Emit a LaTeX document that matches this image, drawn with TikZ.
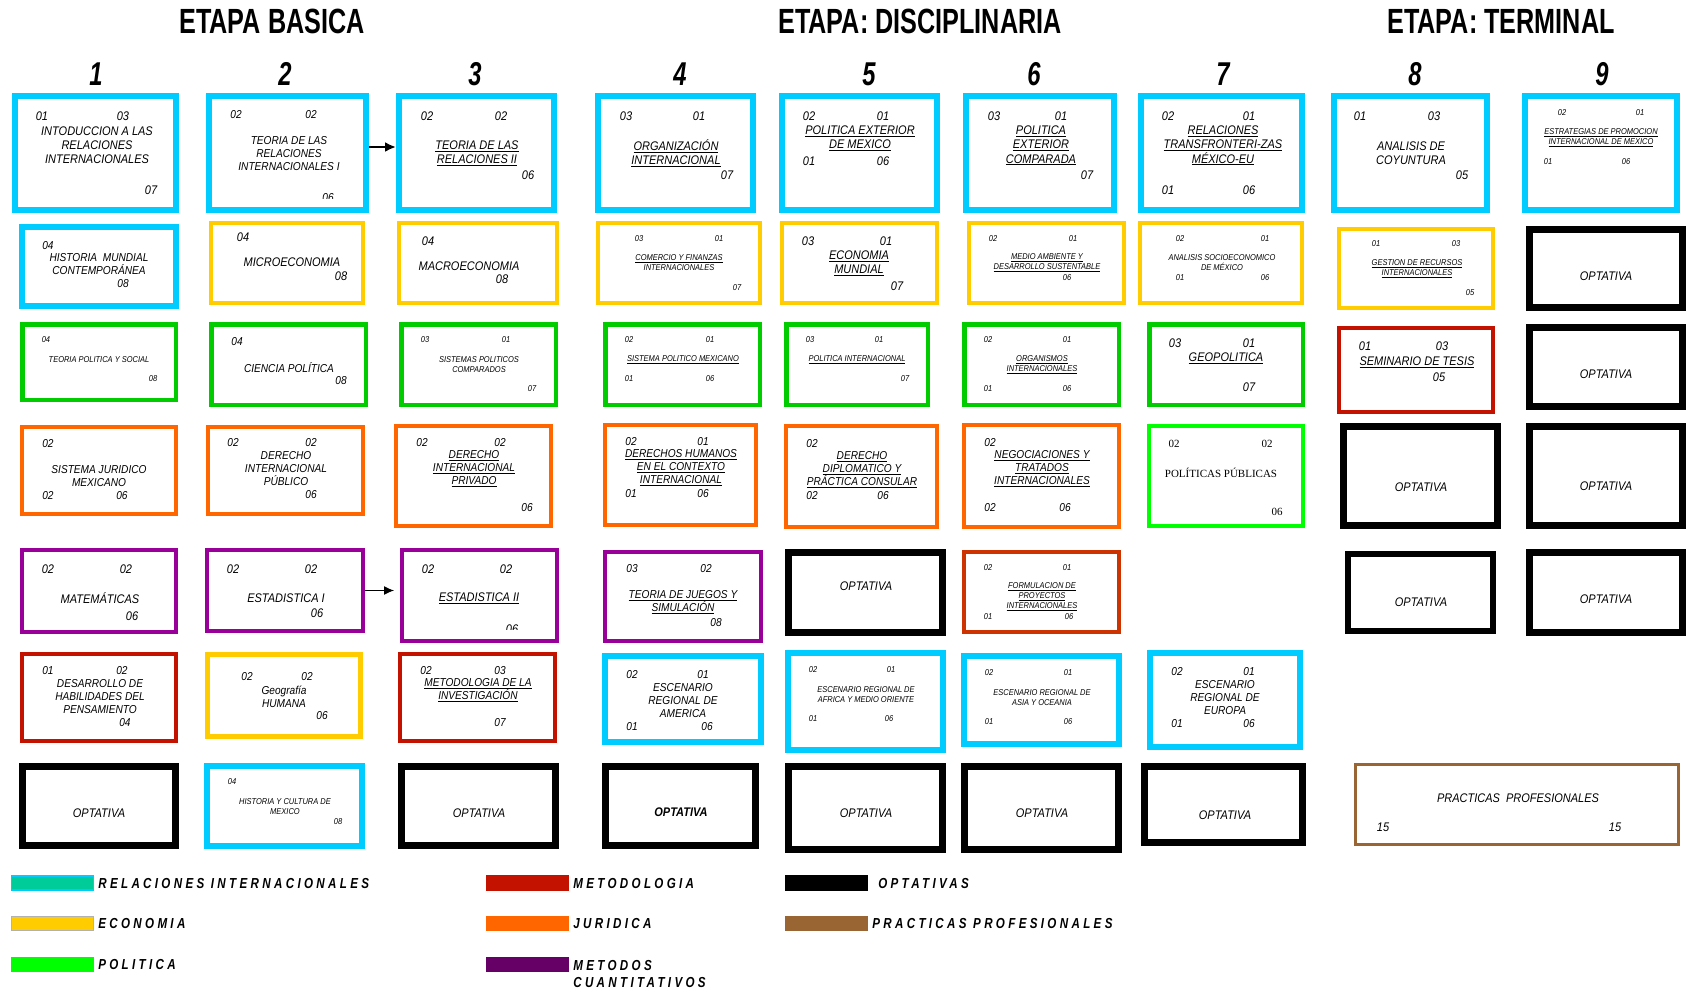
\documentclass[tikz,border=0pt]{standalone}
\usepackage{fontspec}
\usetikzlibrary{arrows.meta,positioning}
\setmainfont{Liberation Sans}
\newfontfamily\cursofont[FakeStretch=0.88]{Liberation Sans}
\newfontfamily\etapafont[FakeStretch=0.72]{Liberation Sans}
\newfontfamily\leyfont[FakeStretch=0.8,LetterSpace=23]{Liberation Sans}
\newfontfamily\pubfont{Liberation Serif}
\definecolor{ricol}{HTML}{00CCFF}
\definecolor{ecocol}{HTML}{FFCC00}
\definecolor{polcol}{HTML}{00CC00}
\definecolor{pubcol}{HTML}{00FF00}
\definecolor{jurcol}{HTML}{FF6600}
\definecolor{cuantcol}{HTML}{990099}
\definecolor{metcol}{HTML}{C41200}
\definecolor{formcol}{HTML}{CC3300}
\definecolor{praccol}{HTML}{996633}
\definecolor{tealcol}{HTML}{00CC99}
\definecolor{violcol}{HTML}{660066}

\begin{document}
\begin{tikzpicture}[x=1pt,y=-1pt,
  ribox/.style={draw=ricol,line width=6pt},
  ecobox/.style={draw=ecocol,line width=4pt},
  polbox/.style={draw=polcol,line width=4.5pt},
  pubbox/.style={draw=pubcol,line width=4pt},
  jurbox/.style={draw=jurcol,line width=4pt},
  cuantbox/.style={draw=cuantcol,line width=4pt},
  metbox/.style={draw=metcol,line width=4pt},
  formbox/.style={draw=formcol,line width=4pt},
  optbox/.style={draw=black,line width=7pt},
  pracbox/.style={draw=praccol,line width=3pt},
  grande/.style={font=\cursofont\fontsize{12.5}{14.2}\selectfont\itshape,align=center,inner sep=0pt},
  medio/.style={font=\cursofont\fontsize{11.5}{13}\selectfont\itshape,align=center,inner sep=0pt},
  chico/.style={font=\cursofont\fontsize{8.5}{10}\selectfont\itshape,align=center,inner sep=0pt},
  serifo/.style={font=\pubfont\fontsize{11}{13}\selectfont,inner sep=0pt},
  etapa/.style={font=\etapafont\bfseries\fontsize{35}{40}\selectfont,inner sep=0pt},
  colnum/.style={font=\etapafont\bfseries\itshape\fontsize{33}{36}\selectfont,inner sep=0pt},
  leybox/.style={minimum width=82pt,minimum height=14pt,inner sep=0pt,line width=1.2pt},
  leytxt/.style={font=\leyfont\bfseries\itshape\fontsize{14.5}{17}\selectfont,inner sep=0pt}]

\useasboundingbox (0,0) rectangle (1686,991);

\node[etapa] (et-basica) at (272,21) {ETAPA BASICA};
\node[etapa] (et-disc) at (920,21) {ETAPA: DISCIPLINARIA};
\node[etapa] (et-term) at (1501,21) {ETAPA: TERMINAL};

\node[colnum] (n1) at (96,74) {1};
\node[colnum] (n2) at (285,74) {2};
\node[colnum] (n3) at (475,74) {3};
\node[colnum] (n4) at (680,74) {4};
\node[colnum] (n5) at (869,74) {5};
\node[colnum] (n6) at (1034,74) {6};
\node[colnum] (n7) at (1223,74) {7};
\node[colnum] (n8) at (1415,74) {8};
\node[colnum] (n9) at (1602,74) {9};

\node[ribox,minimum width=161pt,minimum height=114pt] (c1r1) at (95.5,153) {};
\node[ribox,minimum width=157pt,minimum height=114pt] (c2r1) at (287.5,153) {};
\node[ribox,minimum width=155pt,minimum height=114pt] (c3r1) at (476.5,153) {};
\node[ribox,minimum width=155pt,minimum height=114pt] (c4r1) at (675.5,153) {};
\node[ribox,minimum width=155pt,minimum height=114pt] (c5r1) at (859.5,153) {};
\node[ribox,minimum width=148pt,minimum height=114pt] (c6r1) at (1040,153) {};
\node[ribox,minimum width=161pt,minimum height=114pt] (c7r1) at (1221.5,153) {};
\node[ribox,minimum width=153pt,minimum height=114pt] (c8r1) at (1410.5,153) {};
\node[ribox,minimum width=152pt,minimum height=114pt] (c9r1) at (1601,153) {};

\node[ribox,minimum width=154pt,minimum height=79pt] (c1r2) at (99,266.5) {};
\node[ecobox,minimum width=152pt,minimum height=80pt] (c2r2) at (287,263) {};
\node[ecobox,minimum width=158pt,minimum height=80pt] (c3r2) at (478,263) {};
\node[ecobox,minimum width=162pt,minimum height=80pt] (c4r2) at (679,263) {};
\node[ecobox,minimum width=155pt,minimum height=80pt] (c5r2) at (859.5,263) {};
\node[ecobox,minimum width=155pt,minimum height=80pt] (c6r2) at (1046.5,263) {};
\node[ecobox,minimum width=162pt,minimum height=80pt] (c7r2) at (1221,263) {};
\node[ecobox,minimum width=154pt,minimum height=79pt] (c8r2) at (1416,268.5) {};
\node[optbox,minimum width=153pt,minimum height=78pt] (c9r2) at (1606,268.5) {};

\node[polbox,minimum width=153.5pt,minimum height=75.5pt] (c1r3) at (99,362) {};
\node[polbox,minimum width=154.5pt,minimum height=80.5pt] (c2r3) at (288.5,364.5) {};
\node[polbox,minimum width=154.5pt,minimum height=80.5pt] (c3r3) at (478.5,364.5) {};
\node[polbox,minimum width=154.5pt,minimum height=80.5pt] (c4r3) at (682.5,364.5) {};
\node[polbox,minimum width=141.5pt,minimum height=80.5pt] (c5r3) at (857,364.5) {};
\node[polbox,minimum width=154.5pt,minimum height=80.5pt] (c6r3) at (1041.5,364.5) {};
\node[polbox,minimum width=153.5pt,minimum height=80.5pt] (c7r3) at (1226,364.5) {};
\node[metbox,minimum width=154pt,minimum height=84pt] (c8r3) at (1416,370) {};
\node[optbox,minimum width=153pt,minimum height=79pt] (c9r3) at (1606,367) {};

\node[jurbox,minimum width=154pt,minimum height=87pt] (c1r4) at (99,470.5) {};
\node[jurbox,minimum width=155pt,minimum height=87pt] (c2r4) at (285.5,470.5) {};
\node[jurbox,minimum width=155pt,minimum height=100pt] (c3r4) at (473.5,476) {};
\node[jurbox,minimum width=151pt,minimum height=100pt] (c4r4) at (680.5,475) {};
\node[jurbox,minimum width=151pt,minimum height=101pt] (c5r4) at (861.5,476.5) {};
\node[jurbox,minimum width=155pt,minimum height=102pt] (c6r4) at (1041.5,476) {};
\node[pubbox,minimum width=154pt,minimum height=100pt] (c7r4) at (1226,476) {};
\node[optbox,minimum width=154pt,minimum height=99pt] (c8r4) at (1420.5,476) {};
\node[optbox,minimum width=153pt,minimum height=99pt] (c9r4) at (1606,476) {};

\node[cuantbox,minimum width=154pt,minimum height=82pt] (c1r5) at (99,591) {};
\node[cuantbox,minimum width=156pt,minimum height=81pt] (c2r5) at (285,590.5) {};
\node[cuantbox,minimum width=155pt,minimum height=91pt] (c3r5) at (479.5,595.5) {};
\node[cuantbox,minimum width=156pt,minimum height=89pt] (c4r5) at (683,596.5) {};
\node[optbox,minimum width=154pt,minimum height=80pt] (c5r5) at (865.5,592.5) {};
\node[formbox,minimum width=155pt,minimum height=80pt] (c6r5) at (1041.5,592) {};
\node[optbox,line width=6pt,minimum width=145pt,minimum height=77pt] (c8r5) at (1420.5,592.5) {};
\node[optbox,minimum width=153pt,minimum height=80pt] (c9r5) at (1606,592.5) {};

\node[metbox,minimum width=154pt,minimum height=87pt] (c1r6) at (99,697.5) {};
\node[ecobox,line width=5pt,minimum width=153pt,minimum height=82pt] (c2r6) at (284,695.5) {};
\node[metbox,minimum width=155pt,minimum height=87pt] (c3r6) at (477.5,697.5) {};
\node[ribox,minimum width=156pt,minimum height=86pt] (c4r6) at (683,699) {};
\node[ribox,minimum width=155pt,minimum height=97pt] (c5r6) at (865.5,701.5) {};
\node[ribox,minimum width=155pt,minimum height=88pt] (c6r6) at (1041.5,700) {};
\node[ribox,minimum width=150pt,minimum height=94pt] (c7r6) at (1225,700) {};

\node[optbox,minimum width=153pt,minimum height=79pt] (c1r7) at (99,806) {};
\node[ribox,minimum width=155pt,minimum height=80pt] (c2r7) at (284.5,806) {};
\node[optbox,minimum width=154pt,minimum height=79pt] (c3r7) at (478.5,806) {};
\node[optbox,minimum width=150pt,minimum height=79pt] (c4r7) at (680.5,806) {};
\node[optbox,minimum width=154pt,minimum height=83pt] (c5r7) at (865.5,808) {};
\node[optbox,minimum width=154pt,minimum height=83pt] (c6r7) at (1041.5,808) {};
\node[optbox,minimum width=158pt,minimum height=76pt] (c7r7) at (1223.5,804.5) {};
\node[pracbox,minimum width=323pt,minimum height=80pt] (prac) at (1517,804.5) {};

\draw[line width=2.5pt,-{Latex[length=11pt,width=10pt]}] ([yshift=6pt]c2r1.east) -- ([yshift=6pt]c3r1.west);
\draw[line width=1pt,shorten >=6pt,-{Latex[length=10pt,width=9pt]}] (c2r5.east) -- (c2r5.east -| c3r5.west);

\node[grande] (c1r1-a) at (42,116) {01};
\node[grande] (c1r1-b) at (123,116) {03};
\node[grande] (c1r1-t) at (97,145) {INTODUCCION A LAS\\RELACIONES\\INTERNACIONALES};
\node[grande] (c1r1-d) at (151,190) {07};

\node[medio] (c2r1-a) at (236,115) {02};
\node[medio] (c2r1-b) at (311,115) {02};
\node[medio] (c2r1-t) at (289,154) {TEORIA DE LAS\\RELACIONES\\INTERNACIONALES I};
\begin{scope}
\clip (300,180) rectangle (360,198);
\node[medio] (c2r1-d) at (328,198) {06};
\end{scope}

\node[grande] (c3r1-a) at (427,116) {02};
\node[grande] (c3r1-b) at (501,116) {02};
\node[grande] (c3r1-t) at (477,153) {\underline{TEORIA DE LAS}\\\underline{RELACIONES II}};
\node[grande] (c3r1-d) at (528,175) {06};

\node[grande] (c4r1-a) at (626,116) {03};
\node[grande] (c4r1-b) at (699,116) {01};
\node[grande] (c4r1-t) at (676,153) {\underline{ORGANIZACIÓN}\\\underline{INTERNACIONAL}};
\node[grande] (c4r1-d) at (727,175) {07};

\node[grande] (c5r1-a) at (809,116) {02};
\node[grande] (c5r1-b) at (883,116) {01};
\node[grande] (c5r1-t) at (860,138.5) {\underline{POLITICA EXTERIOR}\\\underline{DE MEXICO}};
\node[grande] (c5r1-c) at (809,161) {01};
\node[grande] (c5r1-d) at (883,161) {06};

\node[grande] (c6r1-a) at (994,116) {03};
\node[grande] (c6r1-b) at (1061,116) {01};
\node[grande] (c6r1-t) at (1041,145.5) {\underline{POLITICA}\\\underline{EXTERIOR}\\\underline{COMPARADA}};
\node[grande] (c6r1-d) at (1087,175) {07};

\node[grande] (c7r1-a) at (1168,116) {02};
\node[grande] (c7r1-b) at (1249,116) {01};
\node[grande] (c7r1-t) at (1223,145.5) {\underline{RELACIONES}\\\underline{TRANSFRONTERI-ZAS}\\\underline{MÉXICO-EU}};
\node[grande] (c7r1-c) at (1168,190) {01};
\node[grande] (c7r1-d) at (1249,190) {06};

\node[grande] (c8r1-a) at (1360,116) {01};
\node[grande] (c8r1-b) at (1434,116) {03};
\node[grande] (c8r1-t) at (1411,153) {ANALISIS DE\\COYUNTURA};
\node[grande] (c8r1-d) at (1462,175) {05};

\node[chico] (c9r1-a) at (1562,113) {02};
\node[chico] (c9r1-b) at (1640,113) {01};
\node[chico] (c9r1-t) at (1601,138) {\underline{ESTRATEGIAS DE PROMOCION}\\\underline{INTERNACIONAL DE MEXICO}};
\node[chico] (c9r1-c) at (1548,162) {01};
\node[chico] (c9r1-d) at (1626,162) {06};

\node[medio] (c1r2-a) at (48,246) {04};
\node[medio] (c1r2-t) at (99,264.5) {HISTORIA\ \ MUNDIAL\\CONTEMPORÁNEA};
\node[medio] (c1r2-d) at (123,284) {08};

\node[grande] (c2r2-a) at (243,237) {04};
\node[grande] (c2r2-t) at (292,262) {MICROECONOMIA};
\node[grande] (c2r2-d) at (341,276) {08};

\node[grande] (c3r2-a) at (428,241) {04};
\node[grande] (c3r2-t) at (469,266) {MACROECONOMIA};
\node[grande] (c3r2-d) at (502,279) {08};

\node[chico] (c4r2-a) at (639,239) {03};
\node[chico] (c4r2-b) at (719,239) {01};
\node[chico] (c4r2-t) at (679,263) {\underline{COMERCIO Y FINANZAS}\\INTERNACIONALES};
\node[chico] (c4r2-d) at (737,288) {07};

\node[grande] (c5r2-a) at (808,241) {03};
\node[grande] (c5r2-b) at (886,241) {01};
\node[grande] (c5r2-t) at (859,263.5) {\underline{ECONOMIA}\\\underline{MUNDIAL}};
\node[grande] (c5r2-d) at (897,286) {07};

\node[chico] (c6r2-a) at (993,239) {02};
\node[chico] (c6r2-b) at (1073,239) {01};
\node[chico] (c6r2-t) at (1047,263) {\underline{MEDIO AMBIENTE Y}\\\underline{DESARROLLO SUSTENTABLE}};
\node[chico] (c6r2-d) at (1067,278) {06};

\node[chico] (c7r2-a) at (1180,239) {02};
\node[chico] (c7r2-b) at (1265,239) {01};
\node[chico] (c7r2-t) at (1222,263) {ANALISIS SOCIOECONOMICO\\DE MÉXICO};
\node[chico] (c7r2-c) at (1180,278) {01};
\node[chico] (c7r2-d) at (1265,278) {06};

\node[chico] (c8r2-a) at (1376,244) {01};
\node[chico] (c8r2-b) at (1456,244) {03};
\node[chico] (c8r2-t) at (1417,268.5) {\underline{GESTION DE RECURSOS}\\\underline{INTERNACIONALES}};
\node[chico] (c8r2-d) at (1470,293) {05};

\node[grande] (c9r2-t) at (1606,276) {OPTATIVA};

\node[chico] (c1r3-a) at (46,340) {04};
\node[chico] (c1r3-t) at (99,360) {TEORIA POLITICA Y SOCIAL};
\node[chico] (c1r3-d) at (153,379) {08};

\node[medio] (c2r3-a) at (237,342) {04};
\node[medio] (c2r3-t) at (289,368) {CIENCIA POLÍTICA};
\node[medio] (c2r3-d) at (341,381) {08};

\node[chico] (c3r3-a) at (425,340) {03};
\node[chico] (c3r3-b) at (506,340) {01};
\node[chico] (c3r3-t) at (479,364.5) {SISTEMAS POLITICOS\\COMPARADOS};
\node[chico] (c3r3-d) at (532,389) {07};

\node[chico] (c4r3-a) at (629,340) {02};
\node[chico] (c4r3-b) at (710,340) {01};
\node[chico] (c4r3-t) at (683,360) {\underline{SISTEMA POLITICO MEXICANO}};
\node[chico] (c4r3-c) at (629,379) {01};
\node[chico] (c4r3-d) at (710,379) {06};

\node[chico] (c5r3-a) at (810,340) {03};
\node[chico] (c5r3-b) at (879,340) {01};
\node[chico] (c5r3-t) at (857,360) {\underline{POLITICA INTERNACIONAL}};
\node[chico] (c5r3-d) at (905,379) {07};

\node[chico] (c6r3-a) at (988,340) {02};
\node[chico] (c6r3-b) at (1067,340) {01};
\node[chico] (c6r3-t) at (1042,364.5) {\underline{ORGANISMOS}\\\underline{INTERNACIONALES}};
\node[chico] (c6r3-c) at (988,389) {01};
\node[chico] (c6r3-d) at (1067,389) {06};

\node[grande] (c7r3-a) at (1175,343) {03};
\node[grande] (c7r3-b) at (1249,343) {01};
\node[grande] (c7r3-t) at (1226,358) {\underline{GEOPOLITICA}};
\node[grande] (c7r3-d) at (1249,387) {07};

\node[grande] (c8r3-a) at (1365,346) {01};
\node[grande] (c8r3-b) at (1442,346) {03};
\node[grande] (c8r3-t) at (1417,362) {\underline{SEMINARIO DE TESIS}};
\node[grande] (c8r3-d) at (1439,377) {05};

\node[grande] (c9r3-t) at (1606,374) {OPTATIVA};

\node[medio] (c1r4-a) at (48,444) {02};
\node[medio] (c1r4-t) at (99,476.5) {SISTEMA JURIDICO\\MEXICANO};
\node[medio] (c1r4-c) at (48,496) {02};
\node[medio] (c1r4-d) at (122,496) {06};

\node[medio] (c2r4-a) at (233,443) {02};
\node[medio] (c2r4-b) at (311,443) {02};
\node[medio] (c2r4-t) at (286,469) {DERECHO\\INTERNACIONAL\\PÚBLICO};
\node[medio] (c2r4-d) at (311,495) {06};

\node[medio] (c3r4-a) at (422,443) {02};
\node[medio] (c3r4-b) at (500,443) {02};
\node[medio] (c3r4-t) at (474,469) {\underline{DERECHO}\\\underline{INTERNACIONAL}\\\underline{PRIVADO}};
\node[medio] (c3r4-d) at (527,508) {06};

\node[medio] (c4r4-a) at (631,442) {02};
\node[medio] (c4r4-b) at (703,442) {01};
\node[medio] (c4r4-t) at (681,468) {\underline{DERECHOS HUMANOS}\\\underline{EN EL CONTEXTO}\\\underline{INTERNACIONAL}};
\node[medio] (c4r4-c) at (631,494) {01};
\node[medio] (c4r4-d) at (703,494) {06};

\node[medio] (c5r4-a) at (812,444) {02};
\node[medio] (c5r4-t) at (862,470) {\underline{DERECHO}\\\underline{DIPLOMATICO Y}\\\underline{PRÁCTICA CONSULAR}};
\node[medio] (c5r4-c) at (812,496) {02};
\node[medio] (c5r4-d) at (883,496) {06};

\node[medio] (c6r4-a) at (990,443) {02};
\node[medio] (c6r4-t) at (1042,469) {\underline{NEGOCIACIONES Y}\\\underline{TRATADOS}\\\underline{INTERNACIONALES}};
\node[medio] (c6r4-c) at (990,508) {02};
\node[medio] (c6r4-d) at (1065,508) {06};

\node[serifo] (c7r4-a) at (1174,444) {02};
\node[serifo] (c7r4-b) at (1267,444) {02};
\node[serifo] (c7r4-t) at (1221,473) {POLÍTICAS PÚBLICAS};
\node[serifo] (c7r4-d) at (1277,512) {06};

\node[grande] (c8r4-t) at (1421,487) {OPTATIVA};
\node[grande] (c9r4-t) at (1606,486) {OPTATIVA};

\node[grande] (c1r5-a) at (48,569) {02};
\node[grande] (c1r5-b) at (126,569) {02};
\node[grande] (c1r5-t) at (100,598) {MATEMÁTICAS};
\node[grande] (c1r5-d) at (132,616) {06};

\node[grande] (c2r5-a) at (233,569) {02};
\node[grande] (c2r5-b) at (311,569) {02};
\node[grande] (c2r5-t) at (286,598) {ESTADISTICA I};
\node[grande] (c2r5-d) at (317,613) {06};

\node[grande] (c3r5-a) at (428,569) {02};
\node[grande] (c3r5-b) at (506,569) {02};
\node[grande] (c3r5-t) at (479,598) {\underline{ESTADISTICA II}};
\begin{scope}
\clip (490,615) rectangle (540,629);
\node[grande] (c3r5-d) at (512,629) {06};
\end{scope}

\node[medio] (c4r5-a) at (632,569) {03};
\node[medio] (c4r5-b) at (706,569) {02};
\node[medio] (c4r5-t) at (683,602) {\underline{TEORIA DE JUEGOS Y}\\\underline{SIMULACIÓN}};
\node[medio] (c4r5-d) at (716,623) {08};

\node[grande] (c5r5-t) at (866,586) {OPTATIVA};

\node[chico] (c6r5-a) at (988,568) {02};
\node[chico] (c6r5-b) at (1067,568) {01};
\node[chico] (c6r5-t) at (1042,597) {\underline{FORMULACION DE}\\\underline{PROYECTOS}\\\underline{INTERNACIONALES}};
\node[chico] (c6r5-c) at (988,617) {01};
\node[chico] (c6r5-d) at (1069,617) {06};

\node[grande] (c8r5-t) at (1421,602) {OPTATIVA};
\node[grande] (c9r5-t) at (1606,599) {OPTATIVA};

\node[medio] (c1r6-a) at (48,671) {01};
\node[medio] (c1r6-b) at (122,671) {02};
\node[medio] (c1r6-t) at (100,697) {DESARROLLO DE\\HABILIDADES DEL\\PENSAMIENTO};
\node[medio] (c1r6-d) at (125,723) {04};

\node[medio] (c2r6-a) at (247,677) {02};
\node[medio] (c2r6-b) at (307,677) {02};
\node[medio] (c2r6-t) at (284,697) {Geografía\\HUMANA};
\node[medio] (c2r6-d) at (322,716) {06};

\node[medio] (c3r6-a) at (426,671) {02};
\node[medio] (c3r6-b) at (500,671) {03};
\node[medio] (c3r6-t) at (478,690.5) {\underline{METODOLOGIA DE LA}\\\underline{INVESTIGACIÓN}};
\node[medio] (c3r6-d) at (500,723) {07};

\node[medio] (c4r6-a) at (632,675) {02};
\node[medio] (c4r6-b) at (703,675) {01};
\node[medio] (c4r6-t) at (683,701) {ESCENARIO\\REGIONAL DE\\AMERICA};
\node[medio] (c4r6-c) at (632,727) {01};
\node[medio] (c4r6-d) at (707,727) {06};

\node[chico] (c5r6-a) at (813,670) {02};
\node[chico] (c5r6-b) at (891,670) {01};
\node[chico] (c5r6-t) at (866,695) {ESCENARIO REGIONAL DE\\AFRICA Y MEDIO ORIENTE};
\node[chico] (c5r6-c) at (813,719) {01};
\node[chico] (c5r6-d) at (889,719) {06};

\node[chico] (c6r6-a) at (989,673) {02};
\node[chico] (c6r6-b) at (1068,673) {01};
\node[chico] (c6r6-t) at (1042,698) {ESCENARIO REGIONAL DE\\ASIA Y OCEANIA};
\node[chico] (c6r6-c) at (989,722) {01};
\node[chico] (c6r6-d) at (1068,722) {06};

\node[medio] (c7r6-a) at (1177,672) {02};
\node[medio] (c7r6-b) at (1249,672) {01};
\node[medio] (c7r6-t) at (1225,698) {ESCENARIO\\REGIONAL DE\\EUROPA};
\node[medio] (c7r6-c) at (1177,724) {01};
\node[medio] (c7r6-d) at (1249,724) {06};

\node[grande] (c1r7-t) at (99,813) {OPTATIVA};
\node[chico] (c2r7-a) at (232,782) {04};
\node[chico] (c2r7-t) at (285,807) {HISTORIA Y CULTURA DE\\MEXICO};
\node[chico] (c2r7-d) at (338,822) {08};
\node[grande] (c3r7-t) at (479,813) {OPTATIVA};
\node[grande] (c4r7-t) at (681,812) {\bfseries OPTATIVA};
\node[grande] (c5r7-t) at (866,813) {OPTATIVA};
\node[grande] (c6r7-t) at (1042,813) {OPTATIVA};
\node[grande] (c7r7-t) at (1225,815) {OPTATIVA};

\node[grande] (prac-t) at (1518,798) {PRACTICAS\ \ PROFESIONALES};
\node[grande] (prac-c) at (1383,827) {15};
\node[grande] (prac-d) at (1615,827) {15};

\node[leybox,fill=tealcol,draw=ricol] (lg-ri) at (52.5,883) {};
\node[leybox,fill=ecocol,draw=gray!60] (lg-eco) at (52.5,923.5) {};
\node[leybox,fill=pubcol,draw=pubcol] (lg-pol) at (52.5,964.5) {};
\node[leybox,fill=metcol,draw=metcol] (lg-met) at (527.5,883) {};
\node[leybox,fill=jurcol,draw=jurcol] (lg-jur) at (527.5,923.5) {};
\node[leybox,fill=violcol,draw=violcol] (lg-cuant) at (527.5,964.5) {};
\node[leybox,fill=black,draw=black] (lg-opt) at (826.5,883) {};
\node[leybox,fill=praccol,draw=praccol] (lg-prac) at (826.5,923.5) {};

\node[leytxt,right=4pt of lg-ri] (lg-ri-t) {RELACIONES INTERNACIONALES};
\node[leytxt,right=4pt of lg-eco] (lg-eco-t) {ECONOMIA};
\node[leytxt,right=4pt of lg-pol] (lg-pol-t) {POLITICA};
\node[leytxt,right=4pt of lg-met] (lg-met-t) {METODOLOGIA};
\node[leytxt,right=4pt of lg-jur] (lg-jur-t) {JURIDICA};
\node[leytxt,align=left,anchor=north west] (lg-cuant-t) at ([xshift=4pt,yshift=-3pt]lg-cuant.north east) {METODOS\\CUANTITATIVOS};
\node[leytxt,right=10pt of lg-opt] (lg-opt-t) {OPTATIVAS};
\node[leytxt,right=4pt of lg-prac] (lg-prac-t) {PRACTICAS PROFESIONALES};

\end{tikzpicture}
\end{document}
